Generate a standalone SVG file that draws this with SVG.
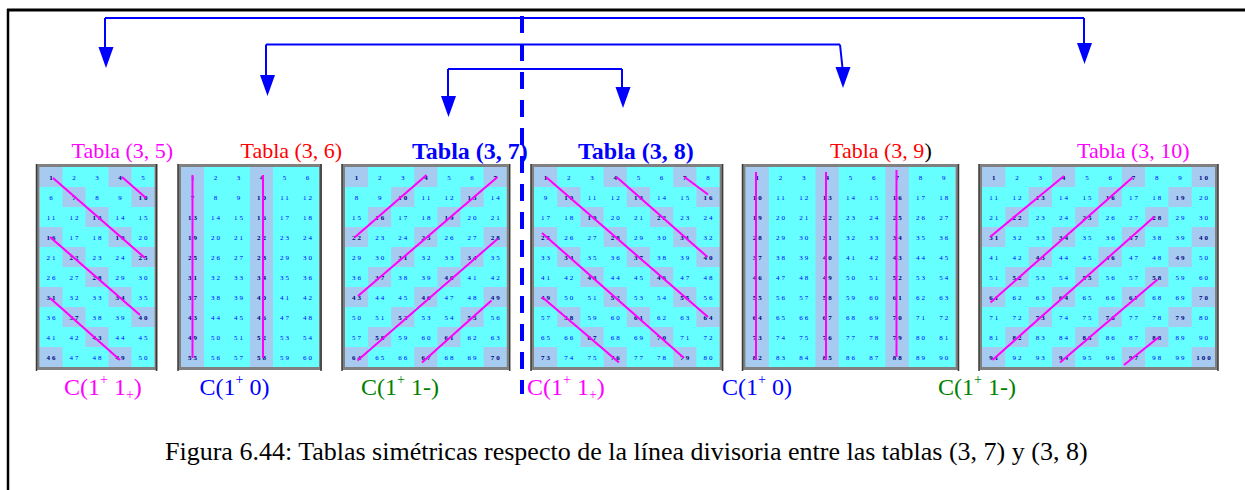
<svg xmlns="http://www.w3.org/2000/svg" width="1245" height="490" viewBox="0 0 1245 490">
<style>
.bg{fill:#66FFFF}
.hl{fill:#A6CAF0}
.fr{fill:none;stroke:#808080;stroke-width:3}
.sd{stroke:#3a3a3a;stroke-width:1.5}
.ml{fill:none;stroke:#FF00FF;stroke-width:2}
.nm{font-family:"Liberation Serif",serif;font-size:7px;letter-spacing:2px;text-anchor:middle;fill:#0000FF}
.b{font-weight:bold;fill:#000080}
.lb{font-family:"Liberation Serif",serif;font-size:22px}
.lbb{font-family:"Liberation Serif",serif;font-size:24px;font-weight:bold;fill:#0000FF}
.cl{font-family:"Liberation Serif",serif;font-size:24px}
.sp{font-size:14px}
.cn{fill:none;stroke:#0000FF;stroke-width:2}
.ah{fill:#0000FF}
.cap{font-family:"Liberation Serif",serif;font-size:26px;fill:#000000}
</style>
<defs>
<path id="ah" d="M-7.5 0H7.5L0 21Z"/>
</defs>
<g id="frame">
<path d="M7 10H1245" stroke="#000" stroke-width="3"/>
<path d="M8 9V490" stroke="#000" stroke-width="2.5"/>
</g>
<g id="tabla-3-5">
<text class="lb" x="71.5" y="158" fill="#FF00FF">Tabla (3, 5)</text>
<rect class="bg" x="39.5" y="167" width="115" height="200"/>
<path class="hl" d="M39.5 167h23v20h-23zM108.5 167h23v20h-23zM62.5 187h23v20h-23zM131.5 187h23v20h-23zM85.5 207h23v20h-23zM39.5 227h23v20h-23zM108.5 227h23v20h-23zM62.5 247h23v20h-23zM131.5 247h23v20h-23zM85.5 267h23v20h-23zM39.5 287h23v20h-23zM108.5 287h23v20h-23zM62.5 307h23v20h-23zM131.5 307h23v20h-23zM85.5 327h23v20h-23zM39.5 347h23v20h-23zM108.5 347h23v20h-23z"/>
<g class="nm" transform="translate(1,0)">
<text y="179.5"><tspan class="b" x="51">1</tspan><tspan x="74">2</tspan><tspan x="97">3</tspan><tspan class="b" x="120">4</tspan><tspan x="143">5</tspan></text>
<text y="199.5"><tspan x="51">6</tspan><tspan class="b" x="74">7</tspan><tspan x="97">8</tspan><tspan x="120">9</tspan><tspan class="b" x="143">10</tspan></text>
<text y="219.5"><tspan x="51">11</tspan><tspan x="74">12</tspan><tspan class="b" x="97">13</tspan><tspan x="120">14</tspan><tspan x="143">15</tspan></text>
<text y="239.5"><tspan class="b" x="51">16</tspan><tspan x="74">17</tspan><tspan x="97">18</tspan><tspan class="b" x="120">19</tspan><tspan x="143">20</tspan></text>
<text y="259.5"><tspan x="51">21</tspan><tspan class="b" x="74">22</tspan><tspan x="97">23</tspan><tspan x="120">24</tspan><tspan class="b" x="143">25</tspan></text>
<text y="279.5"><tspan x="51">26</tspan><tspan x="74">27</tspan><tspan class="b" x="97">28</tspan><tspan x="120">29</tspan><tspan x="143">30</tspan></text>
<text y="299.5"><tspan class="b" x="51">31</tspan><tspan x="74">32</tspan><tspan x="97">33</tspan><tspan class="b" x="120">34</tspan><tspan x="143">35</tspan></text>
<text y="319.5"><tspan x="51">36</tspan><tspan class="b" x="74">37</tspan><tspan x="97">38</tspan><tspan x="120">39</tspan><tspan class="b" x="143">40</tspan></text>
<text y="339.5"><tspan x="51">41</tspan><tspan x="74">42</tspan><tspan class="b" x="97">43</tspan><tspan x="120">44</tspan><tspan x="143">45</tspan></text>
<text y="359.5"><tspan class="b" x="51">46</tspan><tspan x="74">47</tspan><tspan x="97">48</tspan><tspan class="b" x="120">49</tspan><tspan x="143">50</tspan></text>
</g>
<path class="ml" d="M53 178L145 258M122 177L146 198M50 237L140 315M50 298L120 360"/>
<rect class="fr" x="38" y="165.5" width="118" height="203"/>
<path class="sd" d="M36.5 164V371M156.5 164V371"/>
<text class="cl" x="64" y="394.5" fill="#FF00FF">C(1<tspan class="sp" dy="-11">+</tspan><tspan dy="11"> 1</tspan><tspan class="sp" dy="4">+</tspan><tspan dy="-4">)</tspan></text>
</g>
<g id="tabla-3-6">
<text class="lb" x="240.5" y="158" fill="#FF0000">Tabla (3, 6)</text>
<rect class="bg" x="181" y="167" width="138" height="200"/>
<path class="hl" d="M181 167h23v200h-23zM250 167h23v200h-23z"/>
<g class="nm" transform="translate(1,0)">
<text y="179.5"><tspan class="b" x="192.5">1</tspan><tspan x="215.5">2</tspan><tspan x="238.5">3</tspan><tspan class="b" x="261.5">4</tspan><tspan x="284.5">5</tspan><tspan x="307.5">6</tspan></text>
<text y="199.5"><tspan class="b" x="192.5">7</tspan><tspan x="215.5">8</tspan><tspan x="238.5">9</tspan><tspan class="b" x="261.5">10</tspan><tspan x="284.5">11</tspan><tspan x="307.5">12</tspan></text>
<text y="219.5"><tspan class="b" x="192.5">13</tspan><tspan x="215.5">14</tspan><tspan x="238.5">15</tspan><tspan class="b" x="261.5">16</tspan><tspan x="284.5">17</tspan><tspan x="307.5">18</tspan></text>
<text y="239.5"><tspan class="b" x="192.5">19</tspan><tspan x="215.5">20</tspan><tspan x="238.5">21</tspan><tspan class="b" x="261.5">22</tspan><tspan x="284.5">23</tspan><tspan x="307.5">24</tspan></text>
<text y="259.5"><tspan class="b" x="192.5">25</tspan><tspan x="215.5">26</tspan><tspan x="238.5">27</tspan><tspan class="b" x="261.5">28</tspan><tspan x="284.5">29</tspan><tspan x="307.5">30</tspan></text>
<text y="279.5"><tspan class="b" x="192.5">31</tspan><tspan x="215.5">32</tspan><tspan x="238.5">33</tspan><tspan class="b" x="261.5">34</tspan><tspan x="284.5">35</tspan><tspan x="307.5">36</tspan></text>
<text y="299.5"><tspan class="b" x="192.5">37</tspan><tspan x="215.5">38</tspan><tspan x="238.5">39</tspan><tspan class="b" x="261.5">40</tspan><tspan x="284.5">41</tspan><tspan x="307.5">42</tspan></text>
<text y="319.5"><tspan class="b" x="192.5">43</tspan><tspan x="215.5">44</tspan><tspan x="238.5">45</tspan><tspan class="b" x="261.5">46</tspan><tspan x="284.5">47</tspan><tspan x="307.5">48</tspan></text>
<text y="339.5"><tspan class="b" x="192.5">49</tspan><tspan x="215.5">50</tspan><tspan x="238.5">51</tspan><tspan class="b" x="261.5">52</tspan><tspan x="284.5">53</tspan><tspan x="307.5">54</tspan></text>
<text y="359.5"><tspan class="b" x="192.5">55</tspan><tspan x="215.5">56</tspan><tspan x="238.5">57</tspan><tspan class="b" x="261.5">58</tspan><tspan x="284.5">59</tspan><tspan x="307.5">60</tspan></text>
</g>
<path class="ml" d="M192.5 175V358M263 175V358"/>
<rect class="fr" x="179.5" y="165.5" width="141" height="203"/>
<path class="sd" d="M178 164V371M321 164V371"/>
<text class="cl" x="199.5" y="394.5" fill="#0000FF">C(1<tspan class="sp" dy="-11">+</tspan><tspan dy="11"> 0)</tspan></text>
</g>
<g id="tabla-3-7">
<text class="lbb" x="412" y="159">Tabla (3, 7)</text>
<rect class="bg" x="345" y="167" width="161.7" height="200"/>
<path class="hl" d="M345 167h23.1v20h-23.1zM414.3 167h23.1v20h-23.1zM483.6 167h23.1v20h-23.1zM391.2 187h23.1v20h-23.1zM460.5 187h23.1v20h-23.1zM368.1 207h23.1v20h-23.1zM437.4 207h23.1v20h-23.1zM345 227h23.1v20h-23.1zM414.3 227h23.1v20h-23.1zM483.6 227h23.1v20h-23.1zM391.2 247h23.1v20h-23.1zM460.5 247h23.1v20h-23.1zM368.1 267h23.1v20h-23.1zM437.4 267h23.1v20h-23.1zM345 287h23.1v20h-23.1zM414.3 287h23.1v20h-23.1zM483.6 287h23.1v20h-23.1zM391.2 307h23.1v20h-23.1zM460.5 307h23.1v20h-23.1zM368.1 327h23.1v20h-23.1zM437.4 327h23.1v20h-23.1zM345 347h23.1v20h-23.1zM414.3 347h23.1v20h-23.1zM483.6 347h23.1v20h-23.1z"/>
<g class="nm" transform="translate(1,0)">
<text y="179.5"><tspan class="b" x="356.6">1</tspan><tspan x="379.7">2</tspan><tspan x="402.8">3</tspan><tspan class="b" x="425.9">4</tspan><tspan x="449">5</tspan><tspan x="472.1">6</tspan><tspan class="b" x="495.2">7</tspan></text>
<text y="199.5"><tspan x="356.6">8</tspan><tspan x="379.7">9</tspan><tspan class="b" x="402.8">10</tspan><tspan x="425.9">11</tspan><tspan x="449">12</tspan><tspan class="b" x="472.1">13</tspan><tspan x="495.2">14</tspan></text>
<text y="219.5"><tspan x="356.6">15</tspan><tspan class="b" x="379.7">16</tspan><tspan x="402.8">17</tspan><tspan x="425.9">18</tspan><tspan class="b" x="449">19</tspan><tspan x="472.1">20</tspan><tspan x="495.2">21</tspan></text>
<text y="239.5"><tspan class="b" x="356.6">22</tspan><tspan x="379.7">23</tspan><tspan x="402.8">24</tspan><tspan class="b" x="425.9">25</tspan><tspan x="449">26</tspan><tspan x="472.1">27</tspan><tspan class="b" x="495.2">28</tspan></text>
<text y="259.5"><tspan x="356.6">29</tspan><tspan x="379.7">30</tspan><tspan class="b" x="402.8">31</tspan><tspan x="425.9">32</tspan><tspan x="449">33</tspan><tspan class="b" x="472.1">34</tspan><tspan x="495.2">35</tspan></text>
<text y="279.5"><tspan x="356.6">36</tspan><tspan class="b" x="379.7">37</tspan><tspan x="402.8">38</tspan><tspan x="425.9">39</tspan><tspan class="b" x="449">40</tspan><tspan x="472.1">41</tspan><tspan x="495.2">42</tspan></text>
<text y="299.5"><tspan class="b" x="356.6">43</tspan><tspan x="379.7">44</tspan><tspan x="402.8">45</tspan><tspan class="b" x="425.9">46</tspan><tspan x="449">47</tspan><tspan x="472.1">48</tspan><tspan class="b" x="495.2">49</tspan></text>
<text y="319.5"><tspan x="356.6">50</tspan><tspan x="379.7">51</tspan><tspan class="b" x="402.8">52</tspan><tspan x="425.9">53</tspan><tspan x="449">54</tspan><tspan class="b" x="472.1">55</tspan><tspan x="495.2">56</tspan></text>
<text y="339.5"><tspan x="356.6">57</tspan><tspan class="b" x="379.7">58</tspan><tspan x="402.8">59</tspan><tspan x="425.9">60</tspan><tspan class="b" x="449">61</tspan><tspan x="472.1">62</tspan><tspan x="495.2">63</tspan></text>
<text y="359.5"><tspan class="b" x="356.6">64</tspan><tspan x="379.7">65</tspan><tspan x="402.8">66</tspan><tspan class="b" x="425.9">67</tspan><tspan x="449">68</tspan><tspan x="472.1">69</tspan><tspan class="b" x="495.2">70</tspan></text>
</g>
<path class="ml" d="M426.5 175L354.5 237.5M497.5 177L358 296M497.5 239L357.5 360.5M491.5 300.5L422 362.5"/>
<rect class="fr" x="343.5" y="165.5" width="164.7" height="203"/>
<path class="sd" d="M342 164V371M509.7 164V371"/>
<text class="cl" x="361" y="394.5" fill="#008000">C(1<tspan class="sp" dy="-11">+</tspan><tspan dy="11"> 1-)</tspan></text>
</g>
<g id="tabla-3-8">
<text class="lbb" x="578" y="159">Tabla (3, 8)</text>
<rect class="bg" x="534" y="167" width="185.6" height="200"/>
<path class="hl" d="M534 167h23.2v20h-23.2zM603.6 167h23.2v20h-23.2zM673.2 167h23.2v20h-23.2zM557.2 187h23.2v20h-23.2zM626.8 187h23.2v20h-23.2zM696.4 187h23.2v20h-23.2zM580.4 207h23.2v20h-23.2zM650 207h23.2v20h-23.2zM534 227h23.2v20h-23.2zM603.6 227h23.2v20h-23.2zM673.2 227h23.2v20h-23.2zM557.2 247h23.2v20h-23.2zM626.8 247h23.2v20h-23.2zM696.4 247h23.2v20h-23.2zM580.4 267h23.2v20h-23.2zM650 267h23.2v20h-23.2zM534 287h23.2v20h-23.2zM603.6 287h23.2v20h-23.2zM673.2 287h23.2v20h-23.2zM557.2 307h23.2v20h-23.2zM626.8 307h23.2v20h-23.2zM696.4 307h23.2v20h-23.2zM580.4 327h23.2v20h-23.2zM650 327h23.2v20h-23.2zM534 347h23.2v20h-23.2zM603.6 347h23.2v20h-23.2zM673.2 347h23.2v20h-23.2z"/>
<g class="nm" transform="translate(1,0)">
<text y="179.5"><tspan class="b" x="545.6">1</tspan><tspan x="568.8">2</tspan><tspan x="592">3</tspan><tspan class="b" x="615.2">4</tspan><tspan x="638.4">5</tspan><tspan x="661.6">6</tspan><tspan class="b" x="684.8">7</tspan><tspan x="708">8</tspan></text>
<text y="199.5"><tspan x="545.6">9</tspan><tspan class="b" x="568.8">10</tspan><tspan x="592">11</tspan><tspan x="615.2">12</tspan><tspan class="b" x="638.4">13</tspan><tspan x="661.6">14</tspan><tspan x="684.8">15</tspan><tspan class="b" x="708">16</tspan></text>
<text y="219.5"><tspan x="545.6">17</tspan><tspan x="568.8">18</tspan><tspan class="b" x="592">19</tspan><tspan x="615.2">20</tspan><tspan x="638.4">21</tspan><tspan class="b" x="661.6">22</tspan><tspan x="684.8">23</tspan><tspan x="708">24</tspan></text>
<text y="239.5"><tspan class="b" x="545.6">25</tspan><tspan x="568.8">26</tspan><tspan x="592">27</tspan><tspan class="b" x="615.2">28</tspan><tspan x="638.4">29</tspan><tspan x="661.6">30</tspan><tspan class="b" x="684.8">31</tspan><tspan x="708">32</tspan></text>
<text y="259.5"><tspan x="545.6">33</tspan><tspan class="b" x="568.8">34</tspan><tspan x="592">35</tspan><tspan x="615.2">36</tspan><tspan class="b" x="638.4">37</tspan><tspan x="661.6">38</tspan><tspan x="684.8">39</tspan><tspan class="b" x="708">40</tspan></text>
<text y="279.5"><tspan x="545.6">41</tspan><tspan x="568.8">42</tspan><tspan class="b" x="592">43</tspan><tspan x="615.2">44</tspan><tspan x="638.4">45</tspan><tspan class="b" x="661.6">46</tspan><tspan x="684.8">47</tspan><tspan x="708">48</tspan></text>
<text y="299.5"><tspan class="b" x="545.6">49</tspan><tspan x="568.8">50</tspan><tspan x="592">51</tspan><tspan class="b" x="615.2">52</tspan><tspan x="638.4">53</tspan><tspan x="661.6">54</tspan><tspan class="b" x="684.8">55</tspan><tspan x="708">56</tspan></text>
<text y="319.5"><tspan x="545.6">57</tspan><tspan class="b" x="568.8">58</tspan><tspan x="592">59</tspan><tspan x="615.2">60</tspan><tspan class="b" x="638.4">61</tspan><tspan x="661.6">62</tspan><tspan x="684.8">63</tspan><tspan class="b" x="708">64</tspan></text>
<text y="339.5"><tspan x="545.6">65</tspan><tspan x="568.8">66</tspan><tspan class="b" x="592">67</tspan><tspan x="615.2">68</tspan><tspan x="638.4">69</tspan><tspan class="b" x="661.6">70</tspan><tspan x="684.8">71</tspan><tspan x="708">72</tspan></text>
<text y="359.5"><tspan class="b" x="545.6">73</tspan><tspan x="568.8">74</tspan><tspan x="592">75</tspan><tspan class="b" x="615.2">76</tspan><tspan x="638.4">77</tspan><tspan x="661.6">78</tspan><tspan class="b" x="684.8">79</tspan><tspan x="708">80</tspan></text>
</g>
<path class="ml" d="M546 177L708 317M616.5 177L707.5 257M684.5 177L708 194.5M542 233L684 358M542 297L619 362.5"/>
<rect class="fr" x="532.5" y="165.5" width="188.6" height="203"/>
<path class="sd" d="M531 164V371M722.6 164V371"/>
<text class="cl" x="527" y="394.5" fill="#FF00FF">C(1<tspan class="sp" dy="-11">+</tspan><tspan dy="11"> 1</tspan><tspan class="sp" dy="4">+</tspan><tspan dy="-4">)</tspan></text>
</g>
<g id="tabla-3-9">
<text class="lb" x="830" y="158" fill="#FF0000">Tabla (3, 9<tspan fill="#000000">)</tspan></text>
<rect class="bg" x="745.5" y="167" width="210" height="200"/>
<path class="hl" d="M745.5 167h23.33v200h-23.33zM815.5 167h23.33v200h-23.33zM885.5 167h23.33v200h-23.33z"/>
<g class="nm" transform="translate(1,0)">
<text y="179.5"><tspan class="b" x="757.2">1</tspan><tspan x="780.5">2</tspan><tspan x="803.8">3</tspan><tspan class="b" x="827.2">4</tspan><tspan x="850.5">5</tspan><tspan x="873.8">6</tspan><tspan class="b" x="897.2">7</tspan><tspan x="920.5">8</tspan><tspan x="943.8">9</tspan></text>
<text y="199.5"><tspan class="b" x="757.2">10</tspan><tspan x="780.5">11</tspan><tspan x="803.8">12</tspan><tspan class="b" x="827.2">13</tspan><tspan x="850.5">14</tspan><tspan x="873.8">15</tspan><tspan class="b" x="897.2">16</tspan><tspan x="920.5">17</tspan><tspan x="943.8">18</tspan></text>
<text y="219.5"><tspan class="b" x="757.2">19</tspan><tspan x="780.5">20</tspan><tspan x="803.8">21</tspan><tspan class="b" x="827.2">22</tspan><tspan x="850.5">23</tspan><tspan x="873.8">24</tspan><tspan class="b" x="897.2">25</tspan><tspan x="920.5">26</tspan><tspan x="943.8">27</tspan></text>
<text y="239.5"><tspan class="b" x="757.2">28</tspan><tspan x="780.5">29</tspan><tspan x="803.8">30</tspan><tspan class="b" x="827.2">31</tspan><tspan x="850.5">32</tspan><tspan x="873.8">33</tspan><tspan class="b" x="897.2">34</tspan><tspan x="920.5">35</tspan><tspan x="943.8">36</tspan></text>
<text y="259.5"><tspan class="b" x="757.2">37</tspan><tspan x="780.5">38</tspan><tspan x="803.8">39</tspan><tspan class="b" x="827.2">40</tspan><tspan x="850.5">41</tspan><tspan x="873.8">42</tspan><tspan class="b" x="897.2">43</tspan><tspan x="920.5">44</tspan><tspan x="943.8">45</tspan></text>
<text y="279.5"><tspan class="b" x="757.2">46</tspan><tspan x="780.5">47</tspan><tspan x="803.8">48</tspan><tspan class="b" x="827.2">49</tspan><tspan x="850.5">50</tspan><tspan x="873.8">51</tspan><tspan class="b" x="897.2">52</tspan><tspan x="920.5">53</tspan><tspan x="943.8">54</tspan></text>
<text y="299.5"><tspan class="b" x="757.2">55</tspan><tspan x="780.5">56</tspan><tspan x="803.8">57</tspan><tspan class="b" x="827.2">58</tspan><tspan x="850.5">59</tspan><tspan x="873.8">60</tspan><tspan class="b" x="897.2">61</tspan><tspan x="920.5">62</tspan><tspan x="943.8">63</tspan></text>
<text y="319.5"><tspan class="b" x="757.2">64</tspan><tspan x="780.5">65</tspan><tspan x="803.8">66</tspan><tspan class="b" x="827.2">67</tspan><tspan x="850.5">68</tspan><tspan x="873.8">69</tspan><tspan class="b" x="897.2">70</tspan><tspan x="920.5">71</tspan><tspan x="943.8">72</tspan></text>
<text y="339.5"><tspan class="b" x="757.2">73</tspan><tspan x="780.5">74</tspan><tspan x="803.8">75</tspan><tspan class="b" x="827.2">76</tspan><tspan x="850.5">77</tspan><tspan x="873.8">78</tspan><tspan class="b" x="897.2">79</tspan><tspan x="920.5">80</tspan><tspan x="943.8">81</tspan></text>
<text y="359.5"><tspan class="b" x="757.2">82</tspan><tspan x="780.5">83</tspan><tspan x="803.8">84</tspan><tspan class="b" x="827.2">85</tspan><tspan x="850.5">86</tspan><tspan x="873.8">87</tspan><tspan class="b" x="897.2">88</tspan><tspan x="920.5">89</tspan><tspan x="943.8">90</tspan></text>
</g>
<path class="ml" d="M756 172V360M826 172V360M896.5 170V357"/>
<rect class="fr" x="744" y="165.5" width="213" height="203"/>
<path class="sd" d="M742.5 164V371M958.5 164V371"/>
<text class="cl" x="722" y="394.5" fill="#0000FF">C(1<tspan class="sp" dy="-11">+</tspan><tspan dy="11"> 0)</tspan></text>
</g>
<g id="tabla-3-10">
<text class="lb" x="1077" y="158" fill="#FF00FF">Tabla (3, 10)</text>
<rect class="bg" x="982" y="167" width="233" height="200"/>
<path class="hl" d="M982 167h23.3v20h-23.3zM1051.9 167h23.3v20h-23.3zM1121.8 167h23.3v20h-23.3zM1191.7 167h23.3v20h-23.3zM1028.6 187h23.3v20h-23.3zM1098.5 187h23.3v20h-23.3zM1168.4 187h23.3v20h-23.3zM1005.3 207h23.3v20h-23.3zM1075.2 207h23.3v20h-23.3zM1145.1 207h23.3v20h-23.3zM982 227h23.3v20h-23.3zM1051.9 227h23.3v20h-23.3zM1121.8 227h23.3v20h-23.3zM1191.7 227h23.3v20h-23.3zM1028.6 247h23.3v20h-23.3zM1098.5 247h23.3v20h-23.3zM1168.4 247h23.3v20h-23.3zM1005.3 267h23.3v20h-23.3zM1075.2 267h23.3v20h-23.3zM1145.1 267h23.3v20h-23.3zM982 287h23.3v20h-23.3zM1051.9 287h23.3v20h-23.3zM1121.8 287h23.3v20h-23.3zM1191.7 287h23.3v20h-23.3zM1028.6 307h23.3v20h-23.3zM1098.5 307h23.3v20h-23.3zM1168.4 307h23.3v20h-23.3zM1005.3 327h23.3v20h-23.3zM1075.2 327h23.3v20h-23.3zM1145.1 327h23.3v20h-23.3zM982 347h23.3v20h-23.3zM1051.9 347h23.3v20h-23.3zM1121.8 347h23.3v20h-23.3zM1191.7 347h23.3v20h-23.3z"/>
<g class="nm" transform="translate(1,0)">
<text y="179.5"><tspan class="b" x="993.7">1</tspan><tspan x="1017">2</tspan><tspan x="1040.3">3</tspan><tspan class="b" x="1063.6">4</tspan><tspan x="1086.9">5</tspan><tspan x="1110.2">6</tspan><tspan class="b" x="1133.5">7</tspan><tspan x="1156.8">8</tspan><tspan x="1180.1">9</tspan><tspan class="b" x="1203.4">10</tspan></text>
<text y="199.5"><tspan x="993.7">11</tspan><tspan x="1017">12</tspan><tspan class="b" x="1040.3">13</tspan><tspan x="1063.6">14</tspan><tspan x="1086.9">15</tspan><tspan class="b" x="1110.2">16</tspan><tspan x="1133.5">17</tspan><tspan x="1156.8">18</tspan><tspan class="b" x="1180.1">19</tspan><tspan x="1203.4">20</tspan></text>
<text y="219.5"><tspan x="993.7">21</tspan><tspan class="b" x="1017">22</tspan><tspan x="1040.3">23</tspan><tspan x="1063.6">24</tspan><tspan class="b" x="1086.9">25</tspan><tspan x="1110.2">26</tspan><tspan x="1133.5">27</tspan><tspan class="b" x="1156.8">28</tspan><tspan x="1180.1">29</tspan><tspan x="1203.4">30</tspan></text>
<text y="239.5"><tspan class="b" x="993.7">31</tspan><tspan x="1017">32</tspan><tspan x="1040.3">33</tspan><tspan class="b" x="1063.6">34</tspan><tspan x="1086.9">35</tspan><tspan x="1110.2">36</tspan><tspan class="b" x="1133.5">37</tspan><tspan x="1156.8">38</tspan><tspan x="1180.1">39</tspan><tspan class="b" x="1203.4">40</tspan></text>
<text y="259.5"><tspan x="993.7">41</tspan><tspan x="1017">42</tspan><tspan class="b" x="1040.3">43</tspan><tspan x="1063.6">44</tspan><tspan x="1086.9">45</tspan><tspan class="b" x="1110.2">46</tspan><tspan x="1133.5">47</tspan><tspan x="1156.8">48</tspan><tspan class="b" x="1180.1">49</tspan><tspan x="1203.4">50</tspan></text>
<text y="279.5"><tspan x="993.7">51</tspan><tspan class="b" x="1017">52</tspan><tspan x="1040.3">53</tspan><tspan x="1063.6">54</tspan><tspan class="b" x="1086.9">55</tspan><tspan x="1110.2">56</tspan><tspan x="1133.5">57</tspan><tspan class="b" x="1156.8">58</tspan><tspan x="1180.1">59</tspan><tspan x="1203.4">60</tspan></text>
<text y="299.5"><tspan class="b" x="993.7">61</tspan><tspan x="1017">62</tspan><tspan x="1040.3">63</tspan><tspan class="b" x="1063.6">64</tspan><tspan x="1086.9">65</tspan><tspan x="1110.2">66</tspan><tspan class="b" x="1133.5">67</tspan><tspan x="1156.8">68</tspan><tspan x="1180.1">69</tspan><tspan class="b" x="1203.4">70</tspan></text>
<text y="319.5"><tspan x="993.7">71</tspan><tspan x="1017">72</tspan><tspan class="b" x="1040.3">73</tspan><tspan x="1063.6">74</tspan><tspan x="1086.9">75</tspan><tspan class="b" x="1110.2">76</tspan><tspan x="1133.5">77</tspan><tspan x="1156.8">78</tspan><tspan class="b" x="1180.1">79</tspan><tspan x="1203.4">80</tspan></text>
<text y="339.5"><tspan x="993.7">81</tspan><tspan class="b" x="1017">82</tspan><tspan x="1040.3">83</tspan><tspan x="1063.6">84</tspan><tspan class="b" x="1086.9">85</tspan><tspan x="1110.2">86</tspan><tspan x="1133.5">87</tspan><tspan class="b" x="1156.8">88</tspan><tspan x="1180.1">89</tspan><tspan x="1203.4">90</tspan></text>
<text y="359.5"><tspan class="b" x="993.7">91</tspan><tspan x="1017">92</tspan><tspan x="1040.3">93</tspan><tspan class="b" x="1063.6">94</tspan><tspan x="1086.9">95</tspan><tspan x="1110.2">96</tspan><tspan class="b" x="1133.5">97</tspan><tspan x="1156.8">98</tspan><tspan x="1180.1">99</tspan><tspan class="b" x="1203.4">100</tspan></text>
</g>
<path class="ml" d="M1064 176L990 237M1132.5 177.5L990.5 302.5M1154.5 216.5L992.5 360M1157.5 279.5L1060 362.5M1159 337L1124 365"/>
<rect class="fr" x="980.5" y="165.5" width="236" height="203"/>
<path class="sd" d="M979 164V371M1218 164V371"/>
<text class="cl" x="938" y="394.5" fill="#008000">C(1<tspan class="sp" dy="-11">+</tspan><tspan dy="11"> 1-)</tspan></text>
</g>
<g id="connectors">
<path class="cn" d="M105 18H1084M105 18V48M1084 18V44M266 44.5H840M266 44.5V75M840 44.5L842.5 68M448 69H622M448 69V98M622 69V88"/>
<use href="#ah" class="ah" x="106" y="47"/>
<use href="#ah" class="ah" x="1084.5" y="43"/>
<use href="#ah" class="ah" x="267.5" y="75"/>
<use href="#ah" class="ah" x="843" y="67"/>
<use href="#ah" class="ah" x="448.5" y="96"/>
<use href="#ah" class="ah" x="623" y="87"/>
<line x1="522" y1="16" x2="522" y2="394" stroke="#0000FF" stroke-width="4" stroke-dasharray="17 11"/>
</g>
<text id="caption" class="cap" x="165" y="460">Figura 6.44: Tablas simétricas respecto de la línea divisoria entre las tablas (3, 7) y (3, 8)</text>
</svg>
